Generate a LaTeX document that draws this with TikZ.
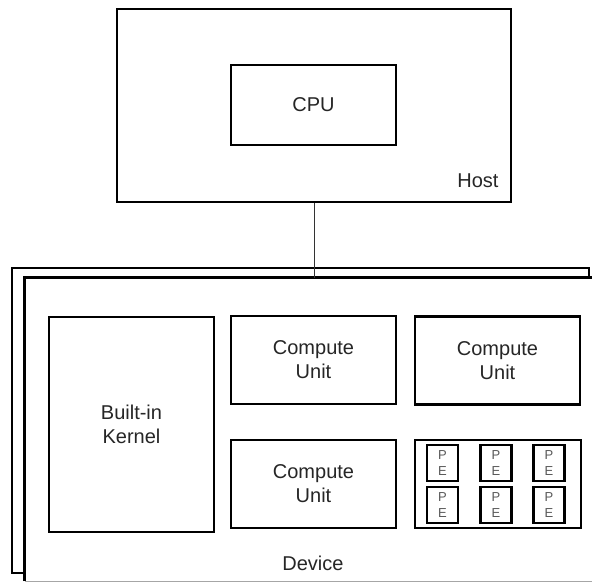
\documentclass[tikz,border=0pt]{standalone}
\usepackage{fontspec}
\setmainfont{Liberation Sans}
\begin{document}
\begin{tikzpicture}[x=1pt,y=-1pt,
  box/.style={draw=black, line width=2.9pt, fill=white, rectangle, inner sep=0pt},
  lbl/.style={text=black!85, font=\fontsize{20}{24}\selectfont, align=center},
  pebox/.style={draw=black, line width=2.7pt, fill=white, rectangle, inner sep=0pt,
    minimum width=31pt, minimum height=36pt, text=black!65,
    font=\fontsize{13}{16}\selectfont, align=center},
  link/.style={draw=black!80, line width=0.9pt}]
\useasboundingbox (0,0) rectangle (592,583);
\clip (0,0) rectangle (592,583);

% host side
\node[box, minimum width=394pt, minimum height=193pt] (host) at (314,105.5) {};
\node[box, lbl, minimum width=165pt, minimum height=80pt] (cpu) at (313.5,105) {CPU};
\node[lbl, anchor=base east] (hostlbl) at (502,188) {Host};

% stacked device outlines
\node[box, minimum width=577pt, minimum height=305pt] (devback) at (300.5,420.5) {};
\node[fill=white, rectangle, inner sep=0pt, minimum width=585pt, minimum height=303pt] (device) at (317.5,429.5) {};
\draw[line width=2.9pt] (device.south west) -- (device.north west) -- (device.north east);
\draw[black!35, line width=1pt] (device.south west) -- (device.south east);

% host to device link
\draw[link] (host.south) -- (host.south |- device.north);

% device contents
\node[box, lbl, minimum width=165pt, minimum height=215pt] (kernel) at (131.5,424.5) {Built-in\\Kernel};
\node[box, lbl, minimum width=165pt, minimum height=88pt] (cu1) at (313.5,360) {Compute\\Unit};
\node[box, lbl, minimum width=165pt, minimum height=88pt] (cu2) at (313.5,484) {Compute\\Unit};
\node[box, lbl, minimum width=165pt, minimum height=88pt] (cu3) at (497.5,360.5) {Compute\\Unit};
\node[box, minimum width=166pt, minimum height=88pt] (cu4) at (498,484) {};

% processing elements
\foreach \c/\x in {1/442.5, 2/496, 3/549}{
  \foreach \r/\y in {1/463, 2/505}{
    \node[pebox] (pe\r\c) at (\x,\y) {P\\E};
  }
}

\node[lbl, anchor=base] (devlbl) at (313,570) {Device};
\end{tikzpicture}
\end{document}
